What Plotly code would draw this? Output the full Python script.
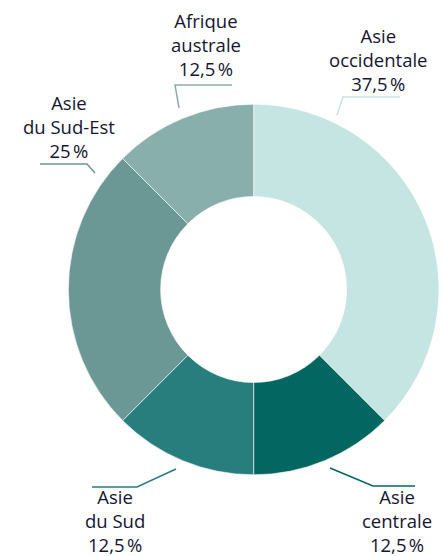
import plotly.graph_objects as go

# Data
regions = ["Asie occidentale", "Asie centrale", "Asie du Sud", "Asie du Sud-Est", "Afrique australe"]
shares = [37.5, 12.5, 12.5, 25, 12.5]
label_lines = [
    ["Asie", "occidentale", "37,5\u202f%"],
    ["Asie", "centrale", "12,5\u202f%"],
    ["Asie", "du Sud", "12,5\u202f%"],
    ["Asie", "du Sud-Est", "25\u202f%"],
    ["Afrique", "australe", "12,5\u202f%"],
]
colors = ["#c5e5e3", "#036661", "#277e7c", "#6b9795", "#89afad"]

W, H = 444, 556


def px(x):
    return x / W


def py(y):
    return 1 - y / H


fig = go.Figure(go.Pie(
    labels=regions,
    values=shares,
    sort=False,
    direction="clockwise",
    rotation=0,
    hole=0.502,
    textinfo="none",
    hoverinfo="label+percent",
    marker=dict(colors=colors, line=dict(color="white", width=0.6)),
    domain=dict(x=[px(68.3), px(439)], y=[py(474.8), py(104.2)]),
    showlegend=False,
))

# label placement (centre x, first baseline) and leader lines, in pixels
label_pos = [(378, 43), (397, 504), (115, 504), (69, 110), (206, 29)]
leaders = [
    [(337, 115), (343, 97), (400, 97)],
    [(330, 468), (373, 486), (415, 486)],
    [(176, 469), (137, 487), (92, 487)],
    [(95, 173), (87, 164), (40, 164)],
    [(179, 108), (175, 85), (232, 85)],
]

annotations = []
shapes = []
for lines, (cx, base), pts, col in zip(label_lines, label_pos, leaders, colors):
    annotations.append(dict(
        text="<br>".join(lines), x=px(cx), y=py(base + 22.5 - 6.5),
        xref="paper", yref="paper", xanchor="center", yanchor="middle",
        showarrow=False, align="center", font=dict(size=18.5, color="#161631"),
    ))
    path = "M" + " L".join(f"{px(x)},{py(y)}" for x, y in pts)
    shapes.append(dict(type="path", path=path, xref="paper", yref="paper",
                       line=dict(color=col, width=1.5)))

fig.update_layout(
    width=W, height=H,
    margin=dict(l=0, r=0, t=0, b=0),
    paper_bgcolor="white",
    font_family="Open Sans",
    annotations=annotations,
    shapes=shapes,
)

fig.write_html("out.html", config={"displayModeBar": False},
               post_script="document.body.style.margin='0px';")
